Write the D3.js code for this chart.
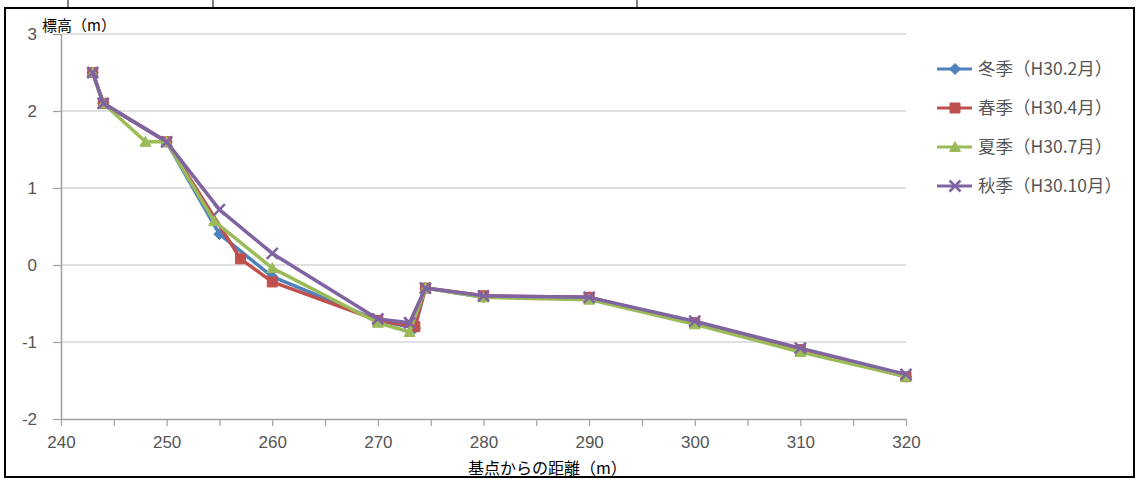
<!DOCTYPE html>
<html>
<head>
<meta charset="utf-8">
<script src="https://cdn.jsdelivr.net/npm/d3@7"></script>
<style>
body { margin: 0; background: #fff; }
</style>
</head>
<body>
<div class="chart"></div>
<script>
// Configuration
var width = 1136;
var height = 479;

// series data (distance from base point in m, elevation in m)
var seriesNames = ["冬季（H30.2月）", "春季（H30.4月）", "夏季（H30.7月）", "秋季（H30.10月）"];
var seriesColors = ["#4f81bd", "#c0504d", "#9bbb59", "#8064a2"];
var seriesMarkers = ["diamond", "square", "triangle", "cross"];

var winterX = [243, 244, 250, 255, 260, 270, 273.5, 274.5, 280, 290, 300, 310, 320];
var winterY = [2.5, 2.1, 1.6, 0.4, -0.15, -0.72, -0.82, -0.3, -0.42, -0.42, -0.75, -1.1, -1.45];

var springX = [243, 244, 250, 257, 260, 270, 273.5, 274.5, 280, 290, 300, 310, 320];
var springY = [2.5, 2.1, 1.6, 0.08, -0.22, -0.72, -0.8, -0.3, -0.4, -0.42, -0.75, -1.1, -1.45];

var summerX = [243, 244, 248, 250, 254.5, 260, 270, 273, 274.5, 280, 290, 300, 310, 320];
var summerY = [2.5, 2.1, 1.6, 1.6, 0.57, -0.04, -0.75, -0.87, -0.3, -0.42, -0.45, -0.77, -1.13, -1.45];

var autumnX = [243, 244, 250, 255, 260, 270, 273, 274.5, 280, 290, 300, 310, 320];
var autumnY = [2.5, 2.1, 1.6, 0.72, 0.15, -0.7, -0.75, -0.3, -0.4, -0.42, -0.73, -1.08, -1.42];

var xTicks = [240, 245, 250, 255, 260, 265, 270, 275, 280, 285, 290, 295, 300, 305, 310, 315, 320];
var yTicks = [-2, -1, 0, 1, 2, 3];

var yTitle = "標高（m）";
var xTitle = "基点からの距離（m）";

var seriesX = [winterX, springX, summerX, autumnX];
var seriesY = [winterY, springY, summerY, autumnY];

// build point lists
var series = seriesNames.map(function(name, i) {
  return {
    name: name,
    color: seriesColors[i],
    marker: seriesMarkers[i],
    points: seriesX[i].map(function(x, j) { return {x: x, y: seriesY[i][j]}; })
  };
});

// scales
var x = d3.scaleLinear().domain([240, 320]).range([61, 906]);
var y = d3.scaleLinear().domain([-2, 3]).range([419, 34]);

var svg = d3.select(".chart").append("svg")
    .attr("width", width)
    .attr("height", height)
    .style("display", "block");

svg.append("rect")
    .attr("width", width)
    .attr("height", height)
    .attr("fill", "#fff");

// gridlines
svg.append("g")
  .selectAll("line")
  .data(yTicks.filter(function(d) { return d > -2; }))
  .enter().append("line")
    .attr("x1", x(240))
    .attr("x2", x(320))
    .attr("y1", function(d) { return y(d); })
    .attr("y2", function(d) { return y(d); })
    .attr("stroke", "#d6d6d6")
    .attr("stroke-width", 1.5);

// axes (plain hyphen for negatives, like the original)
var yAxis = svg.append("g")
    .attr("transform", "translate(" + x(240) + ",0)")
    .call(d3.axisLeft(y).tickValues(yTicks).tickSize(8).tickPadding(16).tickSizeOuter(0)
      .tickFormat(function(d) { return String(d); }));

var xAxis = svg.append("g")
    .attr("transform", "translate(0," + y(-2) + ")")
    .call(d3.axisBottom(x).tickValues(xTicks).tickSize(7).tickPadding(10).tickSizeOuter(0)
      .tickFormat(function(d) { return d % 10 === 0 ? d : ""; }));

[xAxis, yAxis].forEach(function(a) {
  a.select(".domain").attr("stroke", "#a0a0a0").attr("stroke-width", 1.5);
  a.selectAll(".tick line").attr("stroke", "#a0a0a0").attr("stroke-width", 1.2);
  a.selectAll(".tick text")
    .attr("fill", "#555")
    .style("font-family", "'Liberation Sans', Arial, sans-serif")
    .style("font-size", "17px");
});

// marker shapes
function markerPath(type) {
  if (type === "diamond") return "M0,-5.5L5.5,0L0,5.5L-5.5,0Z";
  if (type === "square") return "M-5,-5H5V5H-5Z";
  if (type === "triangle") return "M0,-5.5L5.5,4.5L-5.5,4.5Z";
  return "M-5.5,-5.5L5.5,5.5M-5.5,5.5L5.5,-5.5";
}

function drawMarker(sel, d) {
  sel.append("path")
    .attr("d", markerPath(d.marker))
    .attr("fill", d.marker === "cross" ? "none" : d.color)
    .attr("stroke", d.color)
    .attr("stroke-width", d.marker === "cross" ? 2.5 : 1);
}

var line = d3.line()
    .x(function(d) { return x(d.x); })
    .y(function(d) { return y(d.y); });

// series lines and markers
var groups = svg.selectAll("g.series")
    .data(series)
    .enter().append("g")
    .attr("class", "series");

groups.append("path")
    .attr("d", function(d) { return line(d.points); })
    .attr("fill", "none")
    .attr("stroke", function(d) { return d.color; })
    .attr("stroke-width", 3.5)
    .attr("stroke-linejoin", "round");

groups.each(function(d) {
  var g = d3.select(this);
  d.points.forEach(function(p) {
    var m = g.append("g").attr("transform", "translate(" + x(p.x) + "," + y(p.y) + ")");
    drawMarker(m, d);
  });
});

// legend
var legend = svg.selectAll("g.legend")
    .data(series)
    .enter().append("g")
    .attr("class", "legend")
    .attr("transform", function(d, i) { return "translate(937," + (69 + i * 39) + ")"; });

legend.append("line")
    .attr("x1", 0)
    .attr("x2", 35)
    .attr("stroke", function(d) { return d.color; })
    .attr("stroke-width", 3);

legend.each(function(d) {
  var m = d3.select(this).append("g").attr("transform", "translate(18,0)");
  drawMarker(m, d);
});

legend.append("text")
    .attr("x", 41)
    .attr("dy", "0.35em")
    .attr("fill", "#555")
    .style("font-family", "'Noto Sans CJK JP', sans-serif")
    .style("font-size", "17.5px")
    .text(function(d) { return d.name; });

// axis titles
svg.append("text")
    .attr("x", 42)
    .attr("y", 31)
    .attr("fill", "#000")
    .style("font-family", "'Noto Sans CJK JP', sans-serif")
    .style("font-size", "15px")
    .text(yTitle);

svg.append("text")
    .attr("x", 468)
    .attr("y", 474)
    .attr("fill", "#000")
    .style("font-family", "'Noto Sans CJK JP', sans-serif")
    .style("font-size", "16px")
    .text(xTitle);

// frame
svg.append("rect")
    .attr("x", 5)
    .attr("y", 8)
    .attr("width", 1129)
    .attr("height", 469)
    .attr("fill", "none")
    .attr("stroke", "#000")
    .attr("stroke-width", 2);

svg.selectAll("line.cell")
    .data([68, 213, 637])
    .enter().append("line")
    .attr("class", "cell")
    .attr("x1", function(d) { return d; })
    .attr("x2", function(d) { return d; })
    .attr("y1", 0)
    .attr("y2", 8)
    .attr("stroke", "#000")
    .attr("stroke-width", 1);
</script>
</body>
</html>
